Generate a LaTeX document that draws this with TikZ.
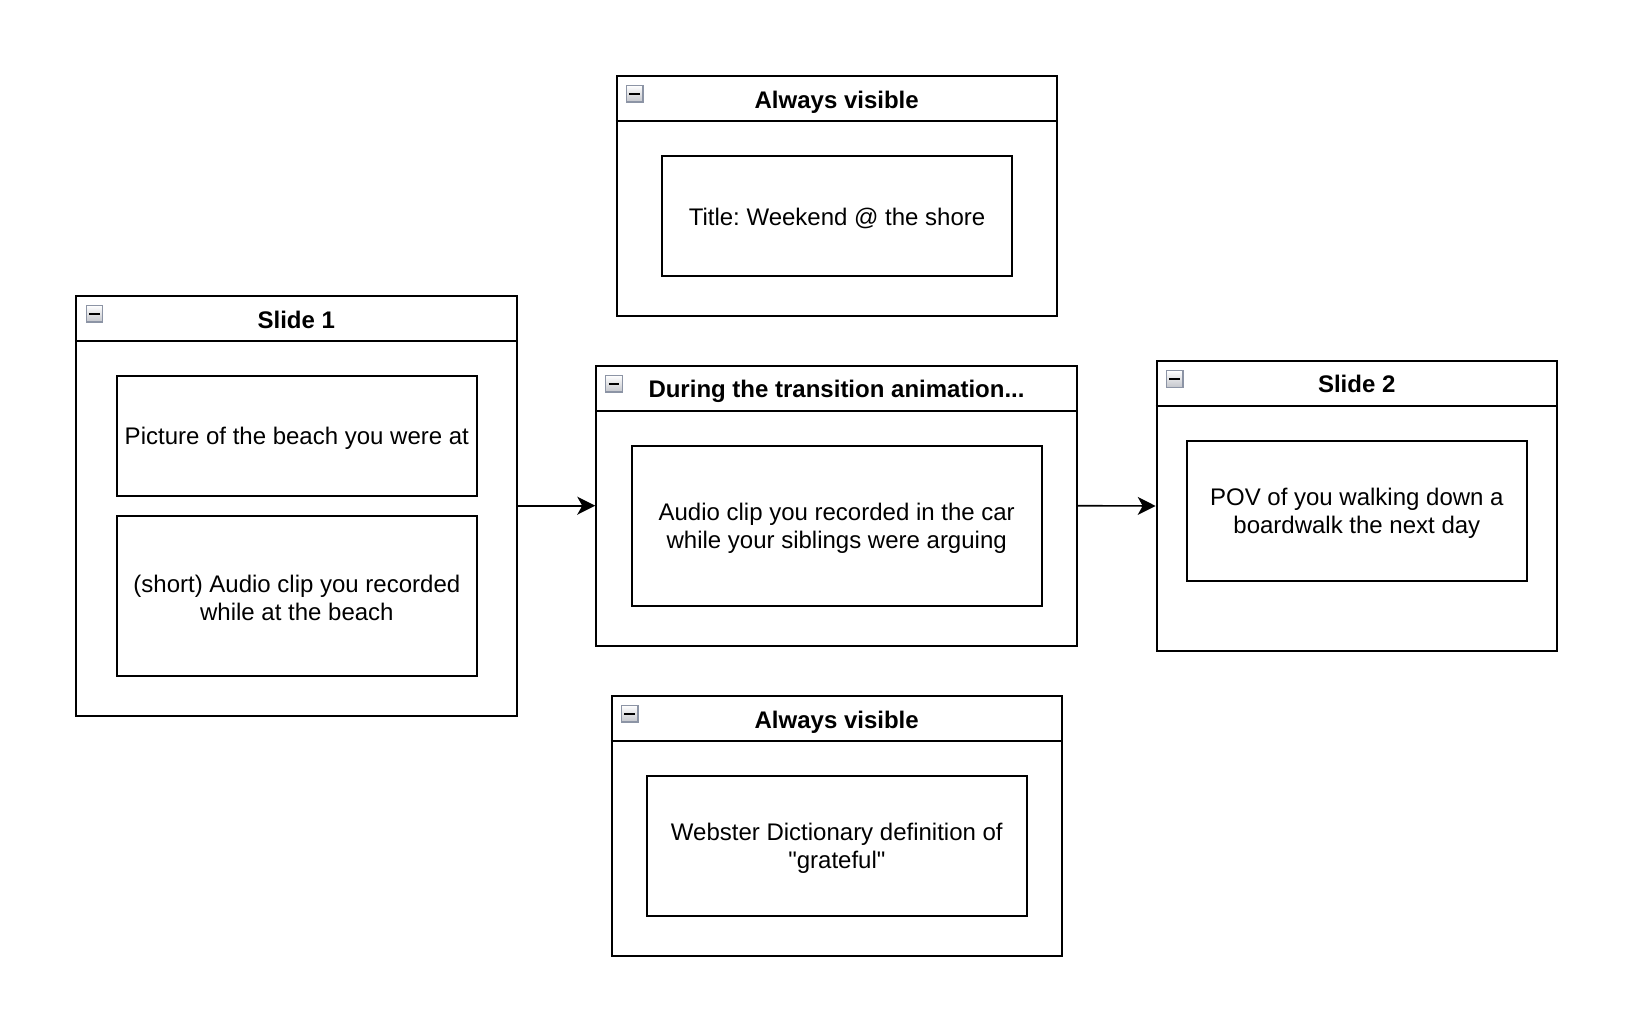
\documentclass[tikz,border=0pt]{standalone}
\usepackage{fontspec}
\setmainfont{Liberation Sans}[Ligatures=TeXOff]
\usepackage{tikz}
\usetikzlibrary{arrows.meta, positioning, calc}
\definecolor{foldgray}{RGB}{140,148,165}
\definecolor{foldfill}{RGB}{196,198,204}
\newcommand{\liftline}{\rule{0pt}{11.2pt}}
\frenchspacing

\begin{document}
\begin{tikzpicture}[x=0.5pt, y=-0.5pt,
	panel/.style={draw, line width=1pt, rectangle, inner sep=0pt},
	paneltitle/.style={font=\bfseries\fontsize{12}{14}\selectfont, inner sep=0pt, anchor=base},
	item/.style={draw, line width=1pt, rectangle, align=center, inner sep=0pt, font=\fontsize{12}{14}\selectfont},
	fold/.style={draw=foldgray, line width=0.6pt, top color=white, bottom color=foldfill, minimum size=8.3pt, inner sep=0pt, anchor=north west},
	link/.style={-{Stealth[length=9pt, width=9pt, inset=2.5pt]}, line width=0.8pt}
]
\useasboundingbox (0,0) rectangle (1640,1028);

% Slide 1
\node[panel, minimum width=220.35pt, minimum height=210pt] (slideone) at (296.3,505.7) {};
\draw[line width=1pt] ([yshift=-23pt]slideone.north west) -- ([yshift=-23pt]slideone.north east);
\node[paneltitle] (slideonetitle) at ([yshift=-16.7pt]slideone.north) {Slide 1};
\node[fold] (slideonefold) at ([xshift=5.3pt, yshift=-5pt]slideone.north west) {};
\draw[line width=1pt] ([xshift=-2.6pt]slideonefold.center) -- ([xshift=2.6pt]slideonefold.center);
\node[item, minimum width=180.15pt, minimum height=59.85pt] (beachpic) at (296.85,435.85) {\liftline Picture of the beach you were at};
\node[item, minimum width=180.15pt, minimum height=80pt] (beachaudio) at (296.85,595.7) {\liftline(short) Audio clip you recorded\\while at the beach};

% Always visible (top)
\node[panel, minimum width=220pt, minimum height=120pt] (topvis) at (836.7,195.7) {};
\draw[line width=1pt] ([yshift=-23pt]topvis.north west) -- ([yshift=-23pt]topvis.north east);
\node[paneltitle] (topvistitle) at ([yshift=-16.7pt]topvis.north) {Always visible};
\node[fold] (topvisfold) at ([xshift=5pt, yshift=-5pt]topvis.north west) {};
\draw[line width=1pt] ([xshift=-2.6pt]topvisfold.center) -- ([xshift=2.6pt]topvisfold.center);
\node[item, minimum width=175.3pt, minimum height=59.85pt] (showtitle) at (837,215.85) {\liftline Title: Weekend @ the shore};

% Transition
\node[panel, minimum width=240.25pt, minimum height=140pt] (transition) at (836.5,505.7) {};
\draw[line width=1pt] ([yshift=-23pt]transition.north west) -- ([yshift=-23pt]transition.north east);
\node[paneltitle] (transitiontitle) at ([yshift=-16.4pt]transition.north) {During the transition animation...};
\node[fold] (transitionfold) at ([xshift=5pt, yshift=-5pt]transition.north west) {};
\draw[line width=1pt] ([xshift=-2.6pt]transitionfold.center) -- ([xshift=2.6pt]transitionfold.center);
\node[item, minimum width=205pt, minimum height=80pt] (caraudio) at (836.7,526) {\liftline Audio clip you recorded in the car\\while your siblings were arguing};

% Slide 2
\node[panel, minimum width=200pt, minimum height=145pt] (slidetwo) at (1356.7,506) {};
\draw[line width=1pt] ([yshift=-23pt]slidetwo.north west) -- ([yshift=-23pt]slidetwo.north east);
\node[paneltitle] (slidetwotitle) at ([yshift=-16.2pt]slidetwo.north) {Slide 2};
\node[fold] (slidetwofold) at ([xshift=5pt, yshift=-5pt]slidetwo.north west) {};
\draw[line width=1pt] ([xshift=-2.6pt]slidetwofold.center) -- ([xshift=2.6pt]slidetwofold.center);
\node[item, minimum width=170.15pt, minimum height=70pt] (boardwalk) at (1356.85,510.7) {\liftline POV of you walking down a\\boardwalk the next day};

% Always visible (bottom)
\node[panel, minimum width=225pt, minimum height=130pt] (bottomvis) at (836.7,825.7) {};
\draw[line width=1pt] ([yshift=-23pt]bottomvis.north west) -- ([yshift=-23pt]bottomvis.north east);
\node[paneltitle] (bottomvistitle) at ([yshift=-16.7pt]bottomvis.north) {Always visible};
\node[fold] (bottomvisfold) at ([xshift=5pt, yshift=-5pt]bottomvis.north west) {};
\draw[line width=1pt] ([xshift=-2.6pt]bottomvisfold.center) -- ([xshift=2.6pt]bottomvisfold.center);
\node[item, minimum width=190.15pt, minimum height=69.85pt] (definition) at (836.85,845.85) {\liftline Webster Dictionary definition of\\"grateful"};

\draw[link] (slideone.east) -- (transition.west);
\draw[link] (transition.east) -- (slidetwo.west);
\end{tikzpicture}
\end{document}
